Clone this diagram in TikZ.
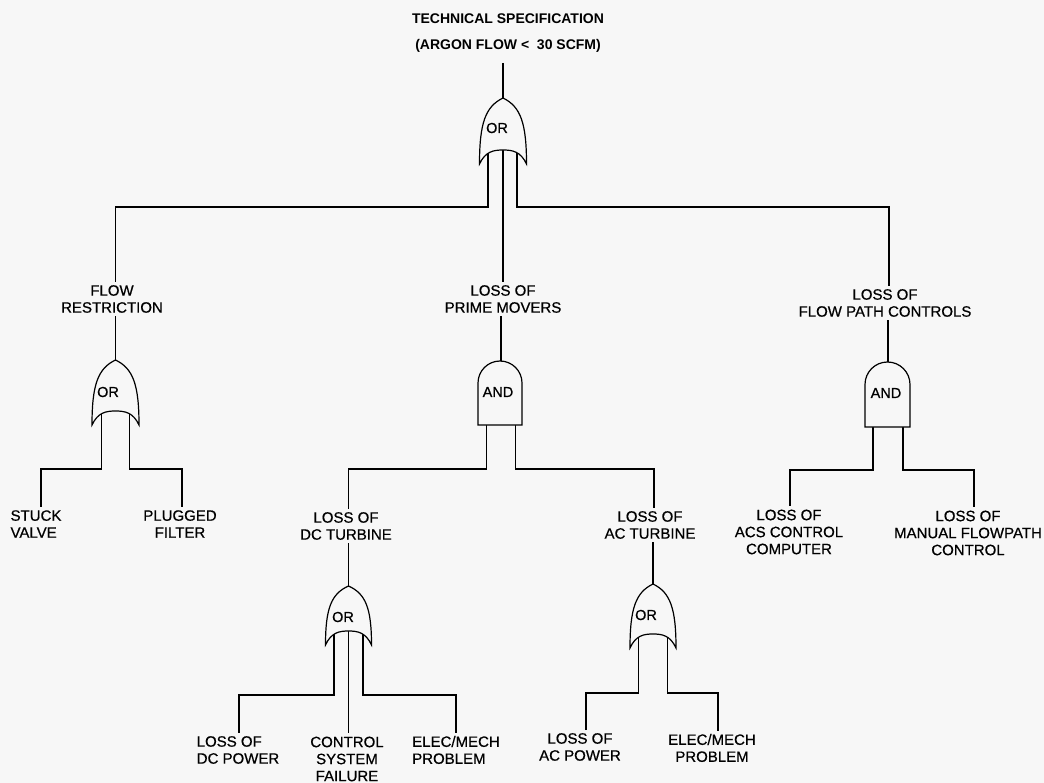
\documentclass[tikz,border=0pt]{standalone}
\usepackage{fontspec}
\setmainfont{Liberation Sans}
\newfontfamily\lblfont{Liberation Sans}[FakeBold=0.6]
\definecolor{bg}{RGB}{247,247,247}
\tikzset{
  wire/.style={line width=1.2pt, black},
  gate/.style={line width=1.2pt, black, fill=bg},
  lbl/.style={font=\lblfont\fontsize{15}{17}\selectfont, align=center, inner sep=3pt},
  lbll/.style={lbl, align=left},
  ttl/.style={font=\fontsize{14}{26.5}\selectfont\bfseries, align=center, inner sep=4pt},
  gtxt/.style={font=\lblfont\fontsize{14.5}{16}\selectfont, inner sep=0pt}
}
% OR gate: #1 cx, #2 top (apex), #3 bottom (tips), #4 half width
\newcommand\ORgate[4]{%
  \draw[gate] (#1,#2) .. controls ({#1-0.75*#4},{#2+0.13*(#3-#2)}) and ({#1-#4},{#2+0.38*(#3-#2)}) .. ({#1-#4},#3)
    .. controls ({#1-0.75*#4},{#3-12.6}) and ({#1-0.4*#4},{#3-14}) .. (#1,{#3-14})
    .. controls ({#1+0.4*#4},{#3-14}) and ({#1+0.75*#4},{#3-12.6}) .. ({#1+#4},#3)
    .. controls ({#1+#4},{#2+0.38*(#3-#2)}) and ({#1+0.75*#4},{#2+0.13*(#3-#2)}) .. (#1,#2) -- cycle;}
% AND gate: #1 cx, #2 top, #3 bottom, #4 half width
\newcommand\ANDgate[4]{%
  \draw[gate] ({#1-#4},#3) -- ({#1-#4},{#2+#4})
    .. controls ({#1-#4},{#2+0.448*#4}) and ({#1-0.552*#4},#2) .. (#1,#2)
    .. controls ({#1+0.552*#4},#2) and ({#1+#4},{#2+0.448*#4}) .. ({#1+#4},{#2+#4})
    -- ({#1+#4},#3) -- cycle;}
\begin{document}
\begin{tikzpicture}[x=1pt,y=-1pt]
\path[fill=bg] (0,0) rectangle (1044,783);
\useasboundingbox (0,0) rectangle (1044,783);

% ---- labels ----
\node[ttl] (title) at (508,33) {TECHNICAL SPECIFICATION\\(ARGON FLOW <\ \ 30 SCFM)};
\node[lbl] (flow) at (112,299) {FLOW\\RESTRICTION};
\node[lbl] (prime) at (503,299) {LOSS OF\\PRIME MOVERS};
\node[lbl] (fpc) at (885,303) {LOSS OF\\FLOW PATH CONTROLS};
\node[lbll] (stuck) at (36,524) {STUCK\\VALVE};
\node[lbl] (plug) at (180,524) {PLUGGED\\FILTER};
\node[lbl] (dct) at (346,526) {LOSS OF\\DC TURBINE};
\node[lbl] (act) at (650,525) {LOSS OF\\AC TURBINE};
\node[lbl] (acs) at (789,532) {LOSS OF\\ACS CONTROL\\COMPUTER};
\node[lbl] (man) at (968,533) {LOSS OF\\MANUAL FLOWPATH\\CONTROL};
\node[lbll] (dcp) at (238,750) {LOSS OF\\DC POWER};
\node[lbl] (csf) at (347,759) {CONTROL\\SYSTEM\\FAILURE};
\node[lbll] (em1) at (456,750) {ELEC/MECH\\PROBLEM};
\node[lbl] (acp) at (580,747) {LOSS OF\\AC POWER};
\node[lbl] (em2) at (712,748) {ELEC/MECH\\PROBLEM};

% ---- gate reference coordinates ----
\coordinate (g0top) at (503,98);
\coordinate (g0L) at (488,150);
\coordinate (g0C) at (503,150);
\coordinate (g0R) at (517,150);
\coordinate (g1top) at (115.5,360);
\coordinate (g1L) at (101.5,411);
\coordinate (g1R) at (129.5,411);
\coordinate (g2top) at (501,361);
\coordinate (g2L) at (486.5,420);
\coordinate (g2R) at (515.5,420);
\coordinate (g3top) at (348.5,586);
\coordinate (g3L) at (334,631);
\coordinate (g3C) at (348.5,631);
\coordinate (g3R) at (363,631);
\coordinate (g4top) at (653,584);
\coordinate (g4L) at (638.5,634);
\coordinate (g4R) at (667.5,634);
\coordinate (g5top) at (888,362);
\coordinate (g5L) at (873,420);
\coordinate (g5R) at (903,420);

% ---- bus corners ----
\coordinate (b0l) at (115.5,207);
\coordinate (b0r) at (889,207);
\coordinate (b1l) at (41,469);
\coordinate (b1r) at (182,469);
\coordinate (b2l) at (348.5,469);
\coordinate (b2r) at (654,469);
\coordinate (b3l) at (239,695);
\coordinate (b3r) at (456,695);
\coordinate (b4l) at (586,693);
\coordinate (b4r) at (718,693);
\coordinate (b5l) at (790,470);
\coordinate (b5r) at (974,470);

% ---- connectors ----
\draw[wire] ([yshift=-6pt]g0top |- title.south) -- (g0top);
\draw[wire] (g0L) |- (b0l) -- (b0l |- flow.north);
\draw[wire] (g0C) -- (g0C |- prime.north);
\draw[wire] (g0R) |- (b0r) -- (b0r |- fpc.north);

\draw[wire] (g1top |- flow.south) -- (g1top);
\draw[wire] (g1L) |- (b1l) -- (b1l |- stuck.north);
\draw[wire] (g1R) |- (b1r) -- (b1r |- plug.north);

\draw[wire] (g2top |- prime.south) -- (g2top);
\draw[wire] (g2L) |- (b2l) -- (b2l |- dct.north);
\draw[wire] (g2R) |- (b2r) -- (b2r |- act.north);

\draw[wire] (g3top |- dct.south) -- (g3top);
\draw[wire] (g3L) |- (b3l) -- (b3l |- dcp.north);
\draw[wire] (g3C) -- (g3C |- csf.north);
\draw[wire] (g3R) |- (b3r) -- (b3r |- em1.north);

\draw[wire] (g4top |- act.south) -- (g4top);
\draw[wire] (g4L) |- (b4l) -- (b4l |- acp.north);
\draw[wire] (g4R) |- (b4r) -- (b4r |- em2.north);

\draw[wire] (g5top |- fpc.south) -- (g5top);
\draw[wire] (g5L) |- (b5l) -- (b5l |- acs.north);
\draw[wire] (g5R) |- (b5r) -- (b5r |- man.north);

% ---- gates ----
\ORgate{503}{98}{164}{23.5}
\ORgate{115.5}{360}{425}{23.5}
\ORgate{348.5}{586}{645}{23}
\ORgate{653}{584}{648}{23}
\ANDgate{500}{361}{425}{22}
\ANDgate{887.5}{362}{427}{22.5}

\node[gtxt] (g0t) at (497,128) {OR};
\node[gtxt] (g1t) at (108,392) {OR};
\node[gtxt] (g3t) at (343,617) {OR};
\node[gtxt] (g4t) at (646,615) {OR};
\node[gtxt] (g2t) at (498,392) {AND};
\node[gtxt] (g5t) at (886,393) {AND};
\end{tikzpicture}
\end{document}
